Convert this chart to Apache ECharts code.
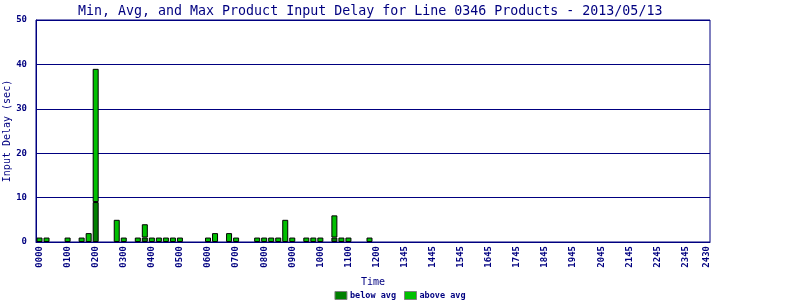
<!DOCTYPE html>
<html>
<head>
<meta charset="utf-8">
<script src="https://cdn.jsdelivr.net/npm/echarts@6/dist/echarts.min.js"></script>
<style>
html,body{margin:0;padding:0;background:#fff;}
#chart{width:800px;height:300px;}
</style>
</head>
<body>
<div id="chart"></div>
<script>
var titleText = "Min, Avg, and Max Product Input Delay for Line 0346 Products - 2013/05/13";

var timeSlots = [
  "0000","0015","0030","0045","0100","0115","0130","0145",
  "0200","0215","0230","0245","0300","0315","0330","0345",
  "0400","0415","0430","0445","0500","0515","0530","0545",
  "0600","0615","0630","0645","0700","0715","0730","0745",
  "0800","0815","0830","0845","0900","0915","0930","0945",
  "1000","1015","1030","1045","1100","1115","1130","1145",
  "1200","1300","1315","1330","1345","1400","1415","1430",
  "1445","1500","1515","1530","1545","1600","1615","1630",
  "1645","1700","1715","1730","1745","1800","1815","1830",
  "1845","1900","1915","1930","1945","2000","2015","2030",
  "2045","2100","2115","2130","2145","2200","2215","2230",
  "2245","2300","2315","2330","2345","2400","2415","2430"
];

var belowAvg = [
  null,null,null,null,null,null,null,null,
  9,null,null,null,null,null,null,1,
  null,null,null,null,null,null,null,null,
  null,null,null,null,null,null,null,null,
  null,null,null,null,null,null,null,null,
  null,null,1,null,null,null,null,null,
  null,null,null,null,null,null,null,null,
  null,null,null,null,null,null,null,null,
  null,null,null,null,null,null,null,null,
  null,null,null,null,null,null,null,null,
  null,null,null,null,null,null,null,null,
  null,null,null,null,null,null,null,null
];

var aboveAvg = [
  1,1,null,null,1,null,1,2,
  30,null,null,5,1,null,1,3,
  1,1,1,1,1,null,null,null,
  1,2,null,2,1,null,null,1,
  1,1,1,5,1,null,1,1,
  1,null,5,1,1,null,null,1,
  null,null,null,null,null,null,null,null,
  null,null,null,null,null,null,null,null,
  null,null,null,null,null,null,null,null,
  null,null,null,null,null,null,null,null,
  null,null,null,null,null,null,null,null,
  null,null,null,null,null,null,null,null
];

var seriesNames = ["below avg", "above avg"];

var navy = "#000080";
var mono = "'DejaVu Sans Mono', monospace";
var chart = echarts.init(document.getElementById('chart'), null, {renderer: 'canvas'});
var lastIdx = timeSlots.length - 1;
chart.setOption({
  animation: false,
  backgroundColor: '#ffffff',
  title: {
    text: titleText,
    left: 73,
    top: 0,
    textStyle: {fontFamily: mono, fontSize: 13.3, fontWeight: 'normal', color: navy}
  },
  legend: {
    data: seriesNames,
    left: 'center',
    top: 286,
    padding: 5,
    itemWidth: 12,
    itemHeight: 8,
    itemGap: 8,
    icon: 'rect',
    itemStyle: {borderColor: '#808080', borderWidth: 1},
    textStyle: {fontFamily: mono, fontSize: 8.5, fontWeight: 'bold', color: navy, padding: [0,0,0,-2]}
  },
  grid: {
    left: 36, right: 90, top: 20, bottom: 58,
    containLabel: false,
    outerBoundsMode: 'none',
    show: true, borderColor: navy, borderWidth: 1, backgroundColor: 'transparent'
  },
  xAxis: {
    type: 'category',
    data: timeSlots,
    boundaryGap: true,
    name: 'Time',
    nameLocation: 'middle',
    nameGap: 35,
    nameMoveOverlap: false,
    nameTextStyle: {fontFamily: mono, fontSize: 10, color: navy},
    axisLine: {lineStyle: {color: navy, width: 1}},
    axisTick: {show: false},
    axisLabel: {
      rotate: 90,
      margin: 4,
      fontFamily: mono,
      fontSize: 9,
      fontWeight: 'bold',
      color: navy,
      interval: function (idx) { return idx % 4 === 0 || idx === lastIdx; }
    },
    splitLine: {show: false}
  },
  yAxis: {
    type: 'value',
    min: 0, max: 50, interval: 10,
    name: 'Input Delay (sec)',
    nameLocation: 'middle',
    nameGap: 24,
    nameMoveOverlap: false,
    nameTextStyle: {fontFamily: mono, fontSize: 10, color: navy},
    axisLine: {show: true, lineStyle: {color: navy, width: 1}},
    axisTick: {show: false},
    axisLabel: {fontFamily: mono, fontSize: 9, fontWeight: 'bold', color: navy, margin: 9},
    splitLine: {show: true, lineStyle: {color: navy, width: 1}}
  },
  series: [
    {
      name: seriesNames[0],
      type: 'bar',
      stack: 'delay',
      data: belowAvg,
      barWidth: 6,
      itemStyle: {color: '#008000', borderColor: '#000000', borderWidth: 1}
    },
    {
      name: seriesNames[1],
      type: 'bar',
      stack: 'delay',
      data: aboveAvg,
      barWidth: 6,
      itemStyle: {color: '#00c000', borderColor: '#000000', borderWidth: 1}
    }
  ]
});
</script>
</body>
</html>
